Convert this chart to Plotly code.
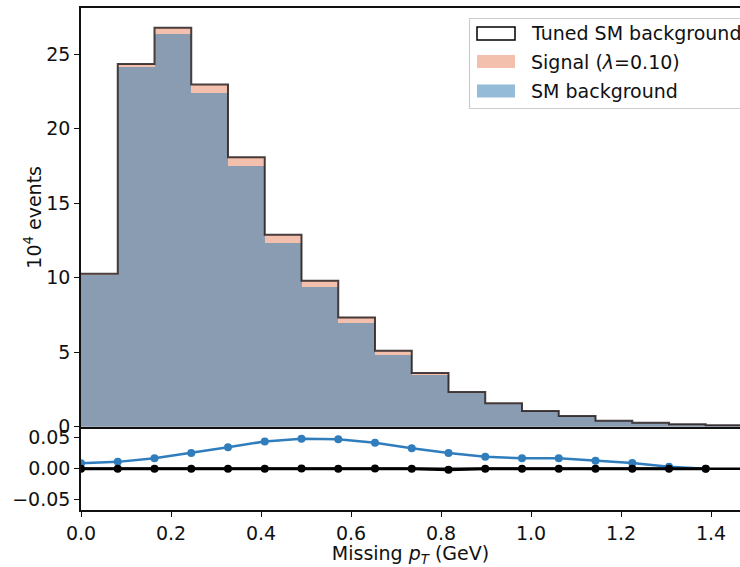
import plotly.graph_objects as go

# ---- data ----
bin_lo = 0.0
bin_hi = 1.47
n_bins = 18
sm_background = [10.20, 24.13, 26.35, 22.38, 17.47, 12.30, 9.37, 6.99, 4.82,
                 3.50, 2.28, 1.54, 1.03, 0.71, 0.39, 0.27, 0.16, 0.09]
signal = [0.06, 0.22, 0.42, 0.58, 0.61, 0.58, 0.42, 0.34, 0.27,
          0.11, 0.05, 0.03, 0.02, 0.01, 0.01, 0.00, 0.00, 0.00]
tuned_sm = [10.26, 24.35, 26.77, 22.96, 18.08, 12.88, 9.79, 7.33, 5.09,
            3.61, 2.33, 1.57, 1.05, 0.72, 0.40, 0.27, 0.16, 0.09]
ratio_signal = [0.0087, 0.0110, 0.0167, 0.0253, 0.0345, 0.0440, 0.0484, 0.0474, 0.0420,
                0.0329, 0.0253, 0.0194, 0.0167, 0.0167, 0.0129, 0.0092, 0.0030, 0.0000]
ratio_tuned = [0.0000, 0.0000, 0.0000, 0.0000, 0.0000, 0.0000, 0.0005, 0.0000, 0.0002,
               0.0000, -0.0016, 0.0000, 0.0000, 0.0000, 0.0000, 0.0000, 0.0000, 0.0000]
x_ticks = [0.0, 0.2, 0.4, 0.6, 0.8, 1.0, 1.2, 1.4]
y_ticks = [0, 5, 10, 15, 20, 25]
r_ticks = [-0.05, 0.0, 0.05]

bw = (bin_hi - bin_lo) / n_bins
edges = [bin_lo + i * bw for i in range(n_bins + 1)]
lefts = edges[:-1]
stacked = [b + s for b, s in zip(sm_background, signal)]

FONT = "DejaVu Sans"
FS = 19
W, H = 740, 567
ML, MR, MT, MB = 81, 0, 8, 57
pw, ph = W - ML - MR, H - MT - MB
split = (510 - 426.7) / ph
x_max = (W - ML) / 450.0


def px(x):
    return (x - ML) / pw


def py(y):
    return (H - MB - y) / ph


fig = go.Figure()

# stacked signal (salmon) drawn first, background (blue) on top
fig.add_trace(go.Bar(x=lefts, y=stacked, width=bw, offset=0,
                     marker=dict(color="rgba(233,129,93,0.5)", line=dict(width=0)),
                     name="Signal (λ=0.10)", showlegend=False,
                     xaxis="x", yaxis="y"))
fig.add_trace(go.Bar(x=lefts, y=sm_background, width=bw, offset=0,
                     marker=dict(color="rgba(31,119,180,0.5)", line=dict(width=0)),
                     name="SM background", showlegend=False,
                     xaxis="x", yaxis="y"))
fig.add_trace(go.Scatter(x=edges, y=tuned_sm + [tuned_sm[-1]], mode="lines",
                         line=dict(color="rgba(40,30,30,0.85)", width=2, shape="hv"),
                         name="Tuned SM background", showlegend=False,
                         xaxis="x", yaxis="y"))

# ratio panel
fig.add_trace(go.Scatter(x=lefts, y=ratio_signal, mode="lines+markers",
                         line=dict(color="#2f7dbd", width=2.5),
                         marker=dict(color="#2f7dbd", size=8),
                         showlegend=False, xaxis="x2", yaxis="y2"))
fig.add_trace(go.Scatter(x=lefts, y=ratio_tuned, mode="lines+markers",
                         line=dict(color="black", width=3),
                         marker=dict(color="black", size=8),
                         showlegend=False, xaxis="x2", yaxis="y2"))

axis_common = dict(showgrid=False, zeroline=False, linecolor="#111", linewidth=1.5,
                   tickcolor="#111", tickwidth=1.2, ticklen=5,
                   tickfont=dict(family=FONT, size=FS, color="#111"))

fig.update_layout(
    width=W, height=H,
    margin=dict(l=ML, r=MR, t=MT, b=MB),
    paper_bgcolor="white", plot_bgcolor="white",
    barmode="overlay", bargap=0,
    font=dict(family=FONT, size=FS, color="#111"),
    showlegend=False,
    xaxis=dict(range=[bin_lo, x_max], domain=[0, 1], anchor="y",
               showline=True, mirror=True, ticks="", showticklabels=False,
               matches="x2", **{k: v for k, v in axis_common.items() if k != "ticklen"}),
    yaxis=dict(range=[0, 28.1], domain=[split, 1], anchor="x",
               showline=True, ticks="outside", tickvals=y_ticks,
               title=dict(text="10<sup>4</sup> events", font=dict(family=FONT, size=FS), standoff=0),
               **axis_common),
    xaxis2=dict(range=[bin_lo, x_max], domain=[0, 1], anchor="y2",
                showline=True, mirror=False, ticks="outside", tickvals=x_ticks,
                tickformat=".1f",
                title=dict(text="Missing <i>p</i><sub><i>T</i></sub> (GeV)",
                           font=dict(family=FONT, size=FS), standoff=7),
                **axis_common),
    yaxis2=dict(range=[-0.0666, 0.0677], domain=[0, split], anchor="x2",
                showline=True, ticks="outside", tickvals=r_ticks, tickformat=".2f",
                **axis_common),
)

shapes = []
# reference line at zero across the ratio panel
shapes.append(dict(type="line", xref="x2 domain", yref="y2", x0=0, x1=1, y0=0, y1=0,
                   line=dict(color="black", width=2.5), layer="below"))

# ---- legend drawn by hand (wide patches like the reference) ----
shapes.append(dict(type="rect", xref="paper", yref="paper",
                   x0=px(469.5), x1=px(760), y0=py(108.5), y1=py(18.5),
                   line=dict(color="#cccccc", width=1.2), fillcolor="rgba(255,255,255,0.85)",
                   layer="above"))
legend_items = [
    ("Tuned SM background", "white", "black", 33.5),
    ("Signal (<i>λ</i>=0.10)", "#f4c0ae", "#f4c0ae", 61.5),
    ("SM background", "#94bcd9", "#94bcd9", 91),
]
annotations = []
for label, fill, edge, yc in legend_items:
    shapes.append(dict(type="rect", xref="paper", yref="paper",
                       x0=px(477), x1=px(515), y0=py(yc + 6.5), y1=py(yc - 6.5),
                       fillcolor=fill, line=dict(color=edge, width=1.5 if edge == "black" else 0),
                       layer="above"))
    annotations.append(dict(text=label, xref="paper", yref="paper",
                            x=px(529), y=py(yc), xanchor="left", yanchor="middle",
                            showarrow=False, font=dict(family=FONT, size=FS, color="#111")))
fig.update_layout(shapes=shapes, annotations=annotations)

fig.write_html("out.html")
